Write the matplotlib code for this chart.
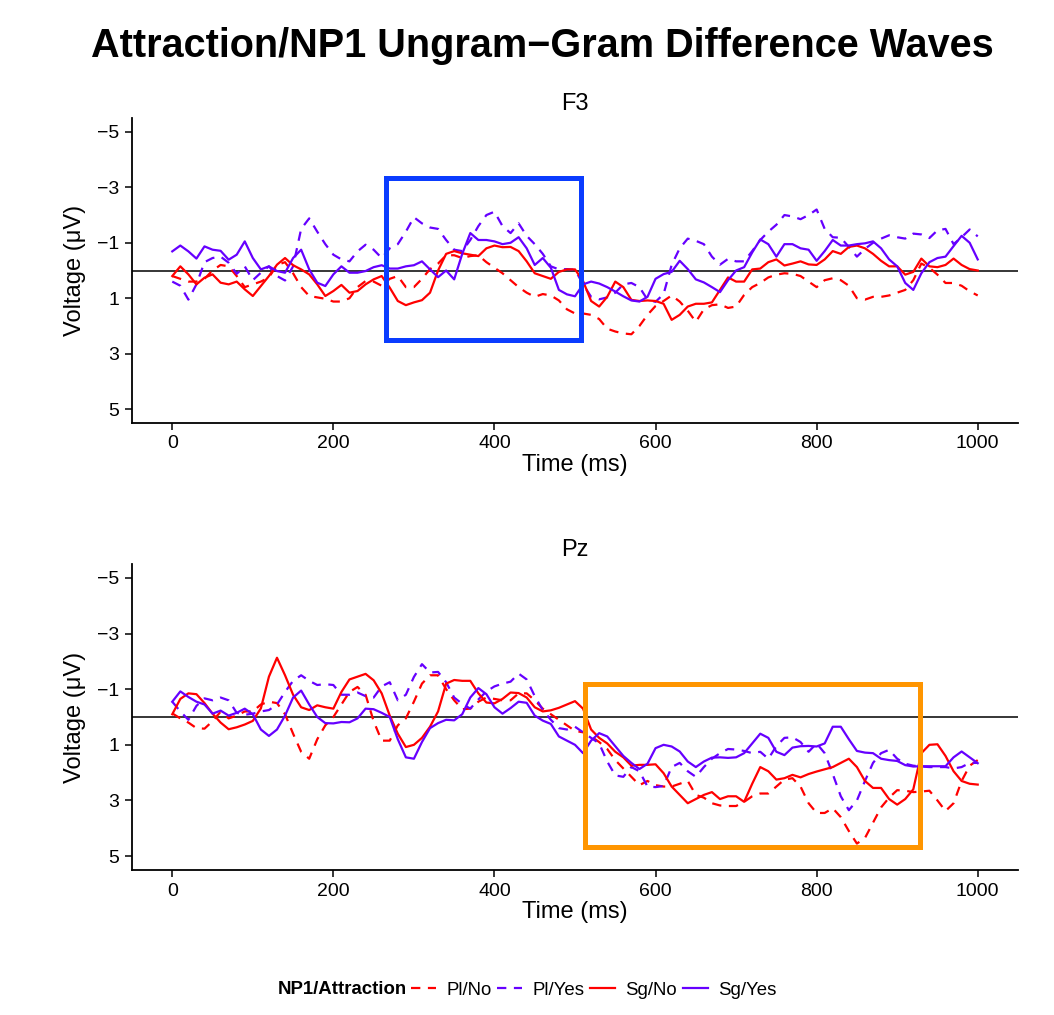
import numpy as np
import matplotlib
matplotlib.use("Agg")
import matplotlib.pyplot as plt
from matplotlib.patches import Rectangle

plt.rcParams['font.family'] = ['Liberation Sans', 'DejaVu Sans']

# ---------------------------------------------------------------------------
# data (µV every 10 ms, 0..1000 ms)
# ---------------------------------------------------------------------------
time_ms = np.arange(0, 1001, 10)

f3_pl_no = [0.2, 0.3, 0.4, 0.4, 0.3, 0.0, -0.2, -0.15, 0.2, 0.6,
            0.5, 0.4, 0.25, -0.2, -0.3, 0.1, 0.6, 0.92, 0.97, 1.02,
            1.12, 1.12, 1.0, 0.6, 0.38, 0.4, 0.55, 0.3, 0.2, 0.6,
            0.6, 0.3, -0.05, -0.25, -0.55, -0.55, -0.45, -0.52, -0.55, -0.3,
            -0.1, 0.1, 0.35, 0.6, 0.8, 0.95, 0.85, 0.9, 1.08, 1.4,
            1.55, 1.55, 1.6, 1.75, 2.1, 2.2, 2.27, 2.3, 2.0, 1.6,
            1.28, 1.1, 0.9, 1.12, 1.45, 1.85, 1.4, 1.25, 1.22, 1.35,
            1.3, 0.88, 0.6, 0.45, 0.25, 0.15, 0.1, 0.12, 0.2, 0.4,
            0.6, 0.35, 0.28, 0.35, 0.55, 1.0, 1.05, 0.95, 0.95, 0.9,
            0.8, 0.7, 0.35, -0.25, -0.1, 0.15, 0.45, 0.45, 0.55, 0.75,
            0.9]
f3_pl_yes = [0.4, 0.55, 1.05, 0.5, -0.3, -0.45, -0.5, -0.28, 0.12, -0.15,
             0.35, 0.08, -0.15, 0.2, 0.36, -0.15, -1.5, -1.88, -1.4, -0.95,
             -0.57, -0.4, -0.33, -0.69, -0.93, -0.75, -0.45, -0.8, -0.95, -1.4,
             -1.92, -1.7, -1.55, -1.5, -1.1, -0.75, -0.7, -1.1, -1.6, -2.0,
             -2.12, -1.6, -1.35, -1.7, -1.25, -0.95, -0.6, -0.15, -0.04, -0.05,
             -0.03, 0.5, 0.95, 1.04, 0.97, 0.8, 0.5, 0.45, 0.6, 1.05,
             1.13, 0.85, -0.2, -0.8, -1.15, -1.07, -0.95, -0.5, -0.21, -0.42,
             -0.33, -0.33, -0.7, -1.1, -1.4, -1.65, -2.0, -1.95, -1.85, -2.0,
             -2.2, -1.5, -1.2, -1.18, -0.85, -0.5, -0.78, -1.0, -1.15, -1.27,
             -1.2, -1.15, -1.33, -1.3, -1.17, -1.45, -1.5, -0.95, -1.2, -1.48,
             -1.23]
f3_sg_no = [0.2, -0.15, 0.14, 0.5, 0.26, 0.14, 0.44, 0.5, 0.4, 0.68,
            0.92, 0.56, 0.2, -0.21, -0.45, -0.19, -0.04, 0.14, 0.5, 0.92,
            0.74, 0.52, 0.8, 0.74, 0.5, 0.32, 0.2, 0.62, 1.1, 1.25,
            1.15, 1.07, 0.8, 0.0, -0.6, -0.7, -0.62, -0.57, -0.52, -0.8,
            -0.9, -0.84, -0.85, -0.7, -0.33, 0.1, 0.2, 0.3, 0.05, -0.04,
            -0.04, 0.38, 1.1, 1.3, 0.95, 0.4, 0.6, 1.06, 1.1, 1.08,
            1.1, 1.2, 1.78, 1.6, 1.3, 1.2, 1.2, 1.15, 0.7, 0.25,
            0.4, 0.4, -0.04, -0.07, -0.3, -0.4, -0.18, -0.25, -0.33, -0.22,
            -0.2, -0.4, -0.7, -0.6, -0.85, -0.9, -0.8, -0.6, -0.35, -0.15,
            -0.15, 0.15, 0.05, -0.43, -0.15, -0.12, -0.2, -0.43, -0.2, -0.05,
            0.0]
f3_sg_yes = [-0.69, -0.9, -0.69, -0.43, -0.87, -0.75, -0.71, -0.39, -0.57, -1.05,
             -0.45, -0.04, -0.15, 0.02, 0.08, -0.45, -0.75, -0.04, 0.44, 0.56,
             0.14, -0.15, 0.08, 0.08, 0.02, -0.12, -0.19, -0.07, -0.07, -0.15,
             -0.19, -0.33, -0.04, 0.24, 0.0, 0.32, -0.6, -1.35, -1.1, -1.1,
             -1.05, -0.95, -1.0, -1.2, -0.8, -0.2, -0.45, -0.1, 0.7, 0.86,
             0.93, 0.5, 0.4, 0.47, 0.6, 0.76, 0.93, 1.08, 1.12, 0.95,
             0.3, 0.13, 0.05, -0.35, -0.05, 0.32, 0.43, 0.6, 0.78, 0.35,
             0.0, -0.12, -0.65, -1.12, -0.95, -0.5, -0.95, -0.95, -0.8, -0.75,
             -0.35, -0.7, -1.1, -0.9, -0.9, -0.95, -0.98, -1.05, -0.8, -0.4,
             -0.15, 0.45, 0.7, 0.1, -0.3, -0.45, -0.5, -0.88, -1.25, -1.0,
             -0.4]

pz_pl_no = [-0.13, 0.05, 0.2, 0.4, 0.42, 0.15, -0.19, 0.05, -0.05, -0.2,
            -0.2, -0.45, -0.55, -0.5, -0.1, 0.6, 1.25, 1.5, 0.8, 0.3,
            0.0, -0.45, -0.9, -1.08, -0.8, 0.15, 0.85, 0.85, 0.3, 0.05,
            -0.55, -1.2, -1.5, -1.5, -1.0, -0.6, -0.28, -0.3, -0.55, -0.7,
            -0.65, -0.6, -0.6, -0.85, -0.85, -0.6, -0.3, -0.1, 0.1, 0.3,
            0.5, 0.55, 0.7, 0.9, 1.15, 1.55, 1.85, 2.15, 2.45, 2.3,
            2.45, 2.5, 2.5, 2.4, 2.3, 2.8, 2.9, 3.1, 3.18, 3.2,
            3.2, 3.05, 2.85, 2.75, 2.75, 2.5, 2.25, 2.2, 2.5, 3.1,
            3.45, 3.45, 3.28, 3.6, 4.1, 4.55, 4.35, 3.8, 3.25, 2.9,
            2.63, 2.65, 2.7, 2.68, 2.65, 3.0, 3.38, 3.1, 2.3, 1.75,
            1.55]
pz_pl_yes = [-0.55, -0.2, 0.1, -0.4, -0.67, -0.6, -0.7, -0.6, -0.15, -0.08,
             -0.12, -0.2, -0.25, -0.45, -0.9, -1.3, -1.5, -1.3, -1.15, -1.18,
             -1.15, -0.8, -0.8, -0.88, -0.75, -0.7, -1.1, -1.25, -0.6, -0.8,
             -1.44, -1.9, -1.6, -1.62, -1.25, -0.7, -0.47, -0.3, -0.63, -0.92,
             -1.1, -1.2, -1.27, -1.56, -1.35, -0.75, -0.25, 0.1, 0.4, 0.45,
             0.35, 0.55, 0.75, 0.95, 1.6, 2.1, 2.15, 1.8, 1.95, 2.5,
             2.52, 2.48, 1.8, 1.65, 1.95, 2.15, 1.8, 1.5, 1.3, 1.15,
             1.17, 1.22, 1.3, 1.25, 1.5, 1.05, 0.75, 0.73, 0.9, 1.25,
             0.95, 1.3, 2.05, 2.85, 3.35, 3.0, 2.3, 1.65, 1.3, 1.18,
             1.5, 1.68, 1.75, 1.78, 1.8, 1.8, 1.8, 1.85, 1.8, 1.65,
             1.65]
pz_sg_no = [-0.1, -0.65, -0.85, -0.82, -0.5, -0.12, 0.2, 0.44, 0.37, 0.27,
            0.14, -0.31, -1.45, -2.13, -1.5, -0.8, -0.35, -0.25, -0.42, -0.35,
            -0.3, -0.9, -1.35, -1.45, -1.55, -1.32, -0.85, -0.05, 0.6, 1.08,
            1.0, 0.75, 0.35, -0.2, -1.2, -1.33, -1.3, -1.3, -0.85, -0.52,
            -0.49, -0.65, -0.88, -0.86, -0.7, -0.35, -0.2, -0.24, -0.33, -0.45,
            -0.57, -0.3, 0.45, 0.75, 0.95, 1.25, 1.45, 1.75, 1.72, 1.72,
            1.7, 2.02, 2.5, 2.8, 3.1, 2.95, 2.8, 2.7, 2.95, 2.85,
            2.85, 3.05, 2.4, 1.8, 1.95, 2.25, 2.2, 2.08, 2.17, 2.05,
            1.96, 1.88, 1.8, 1.65, 1.5, 1.8, 2.3, 2.55, 2.55, 2.95,
            3.15, 2.95, 2.6, 1.3, 1.0, 0.98, 1.4, 1.95, 2.3, 2.4,
            2.43]
pz_sg_yes = [-0.55, -0.92, -0.72, -0.55, -0.45, -0.12, -0.23, -0.05, -0.15, -0.3,
             -0.1, 0.45, 0.68, 0.45, -0.05, -0.7, -0.95, -0.45, 0.0, 0.22,
             0.23, 0.18, 0.19, 0.05, -0.3, -0.28, -0.15, 0.0, 0.8, 1.45,
             1.5, 0.9, 0.4, 0.22, 0.1, 0.12, -0.1, -0.7, -1.04, -0.82,
             -0.35, -0.12, -0.32, -0.55, -0.51, -0.05, 0.13, 0.25, 0.7, 0.85,
             1.0, 1.3, 0.85, 0.58, 0.7, 1.05, 1.4, 1.65, 1.87, 1.68,
             1.12, 1.0, 1.06, 1.24, 1.6, 1.8, 1.6, 1.46, 1.45, 1.47,
             1.45, 1.3, 0.95, 0.6, 0.75, 1.25, 1.37, 1.1, 1.05, 1.04,
             1.06, 0.95, 0.35, 0.35, 0.8, 1.22, 1.28, 1.3, 1.5, 1.55,
             1.58, 1.73, 1.78, 1.77, 1.77, 1.77, 1.77, 1.45, 1.24, 1.45,
             1.66]

conditions = ['Pl/No', 'Pl/Yes', 'Sg/No', 'Sg/Yes']
panels = ['F3', 'Pz']
panel_data = {
    'F3': [f3_pl_no, f3_pl_yes, f3_sg_no, f3_sg_yes],
    'Pz': [pz_pl_no, pz_pl_yes, pz_sg_no, pz_sg_yes],
}
# highlight windows: (t0, t1, v_top, v_bottom)
windows = {'F3': (265, 507, -3.34, 2.52), 'Pz': (512, 928, -1.18, 4.68)}

x_ticks = [0, 200, 400, 600, 800, 1000]
y_ticks = [-5, -3, -1, 1, 3, 5]
y_ticklabels = ['\u22125', '\u22123', '\u22121', '1', '3', '5']

# ---------------------------------------------------------------------------
# styling
# ---------------------------------------------------------------------------
RED = '#FF0000'
PURPLE = '#6600FF'
styles = {
    'Pl/No': dict(color=RED, dashes=(4.2, 3.4)),
    'Pl/Yes': dict(color=PURPLE, dashes=(4.2, 3.4)),
    'Sg/No': dict(color=RED),
    'Sg/Yes': dict(color=PURPLE),
}
box_colors = {'F3': '#0A3CFF', 'Pz': '#FF9500'}

W, H = 1054, 1015
fig = plt.figure(figsize=(W / 100, H / 100), dpi=100)

ax_rects = {
    'F3': [132 / W, 1 - 423 / H, 886 / W, 305 / H],
    'Pz': [132 / W, 1 - 870 / H, 886 / W, 306 / H],
}

handles = []
for name in panels:
    ax = fig.add_axes(ax_rects[name])
    ax.axhline(0, color='black', linewidth=1.1, zorder=1)
    for cond, vals in zip(conditions, panel_data[name]):
        ln, = ax.plot(time_ms, vals, linewidth=1.6, label=cond, zorder=2,
                      solid_joinstyle='round', dash_joinstyle='round',
                      **styles[cond])
        if name == 'F3':
            handles.append(ln)

    t0, t1, v0, v1 = windows[name]
    ax.add_patch(Rectangle((t0, v0), t1 - t0, v1 - v0, fill=False,
                           edgecolor=box_colors[name], linewidth=3.6,
                           zorder=3, clip_on=False))

    ax.set_xlim(-50, 1050)
    ax.set_ylim(5.5, -5.5)
    ax.set_xticks(x_ticks)
    ax.set_yticks(y_ticks)
    ax.set_yticklabels(y_ticklabels)
    ax.tick_params(axis='both', direction='out', length=5, width=1.1,
                   labelsize=14, color='black', pad=4)
    for side in ['top', 'right']:
        ax.spines[side].set_visible(False)
    for side in ['left', 'bottom']:
        ax.spines[side].set_linewidth(1.3)
    ax.set_xlabel('Time (ms)', fontsize=17, labelpad=1)
    ax.set_ylabel('Voltage (\u03bcV)', fontsize=17, labelpad=8)
    ax.set_title(name, fontsize=17, pad=6)

fig.text(542 / W, 1 - 57 / H, 'Attraction/NP1 Ungram\u2212Gram Difference Waves',
         ha='center', va='baseline', fontsize=28.5, fontweight='bold')

# legend along the bottom
fig.text(407 / W, 1 - 990 / H, 'NP1/Attraction', ha='right', va='center',
         fontsize=13.4, fontweight='bold')
fig.legend(handles, conditions, loc='center left',
           bbox_to_anchor=(411 / W, 1 - 990 / H), ncol=4, frameon=False,
           fontsize=13.4, handlelength=1.35, handletextpad=0.55,
           columnspacing=0.3, borderpad=0, borderaxespad=0)

fig.savefig('out.png', dpi=100)
